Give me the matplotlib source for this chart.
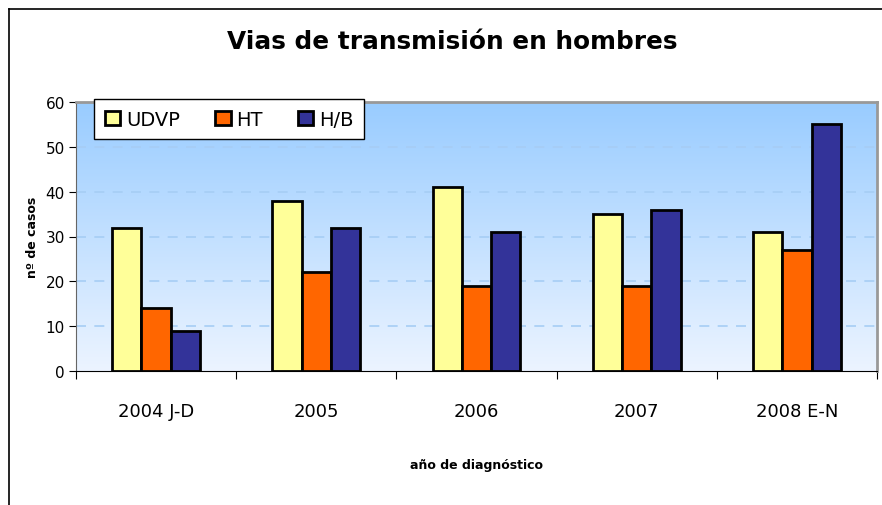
import numpy as np
import matplotlib
matplotlib.use('Agg')
import matplotlib.pyplot as plt
from matplotlib.lines import Line2D
from matplotlib.patches import Patch

# data
categories = ['2004 J-D', '2005', '2006', '2007', '2008 E-N']
series_names = ['UDVP', 'HT', 'H/B']
udvp = [32, 38, 41, 35, 31]
ht = [14, 22, 19, 19, 27]
hb = [9, 32, 31, 36, 55]
colors = ['#FFFF99', '#FF6600', '#333399']

fig = plt.figure(figsize=(8.82, 5.06), dpi=100)
ax = fig.add_axes([76/882, 1-372/506, 801/882, 269/506])

# outer chart frame
fig.add_artist(Line2D([9/882, 9/882], [0, 1-10/506], color='black', lw=1.2))
fig.add_artist(Line2D([9/882, 1], [1-10/506, 1-10/506], color='black', lw=1.2))

# gradient background
grad = np.linspace(0, 1, 256).reshape(-1, 1)
top = np.array([153, 204, 255]) / 255
bot = np.array([236, 244, 255]) / 255
img = top[None, None, :] * (1 - grad[:, :, None]) + bot[None, None, :] * grad[:, :, None]
x = np.arange(len(categories))
ax.imshow(img, extent=[-0.5, len(categories) - 0.5, 0, 60], aspect='auto', zorder=0)

for y in [10, 20, 30, 40, 50]:
    ax.axhline(y, color='#A6CDF5', lw=1.2, ls=(0, (6, 5)), zorder=1)

w = 0.183
for i, (vals, c) in enumerate(zip([udvp, ht, hb], colors)):
    ax.bar(x + (i - 1) * w, vals, w, color=c, edgecolor='black', lw=2, zorder=3, label=series_names[i])

ax.set_xlim(-0.5, len(categories) - 0.5)
ax.set_ylim(0, 60)
ax.set_yticks(range(0, 61, 10))
ax.tick_params(axis='y', labelsize=11, length=5, direction='out', pad=3)
ax.set_xticks(np.arange(-0.5, len(categories), 1))
ax.set_xticklabels([])
ax.tick_params(axis='x', length=6, direction='out')
ax.set_xticks(x, minor=True)
ax.set_xticklabels(categories, minor=True, fontsize=13)
ax.tick_params(axis='x', which='minor', length=0, pad=22)

for s in ['top', 'right']:
    ax.spines[s].set_color('#999999')
    ax.spines[s].set_linewidth(2)
ax.spines['left'].set_color('#666666')
ax.spines['bottom'].set_color('black')

ax.set_ylabel('nº de casos', fontsize=9, fontweight='bold', labelpad=5)
ax.set_xlabel('año de diagnóstico', fontsize=9, fontweight='bold', labelpad=28)

fig.text(452/882, 1-42/506, 'Vias de transmisión en hombres', ha='center', va='center',
         fontsize=17.8, fontweight='bold')

handles = [Patch(facecolor=c, edgecolor='black', lw=2) for c in colors]
leg = ax.legend(handles, series_names, loc='upper left', bbox_to_anchor=(18/801, 1 + 3/269),
                ncol=3, fontsize=14, frameon=True, fancybox=False, edgecolor='black',
                facecolor='white', framealpha=1, borderaxespad=0,
                handlelength=0.8, handleheight=0.8, handletextpad=0.3, columnspacing=1.8,
                borderpad=0.55)
leg.get_frame().set_linewidth(1)
leg.set_zorder(5)

plt.savefig('out.png', dpi=100)
